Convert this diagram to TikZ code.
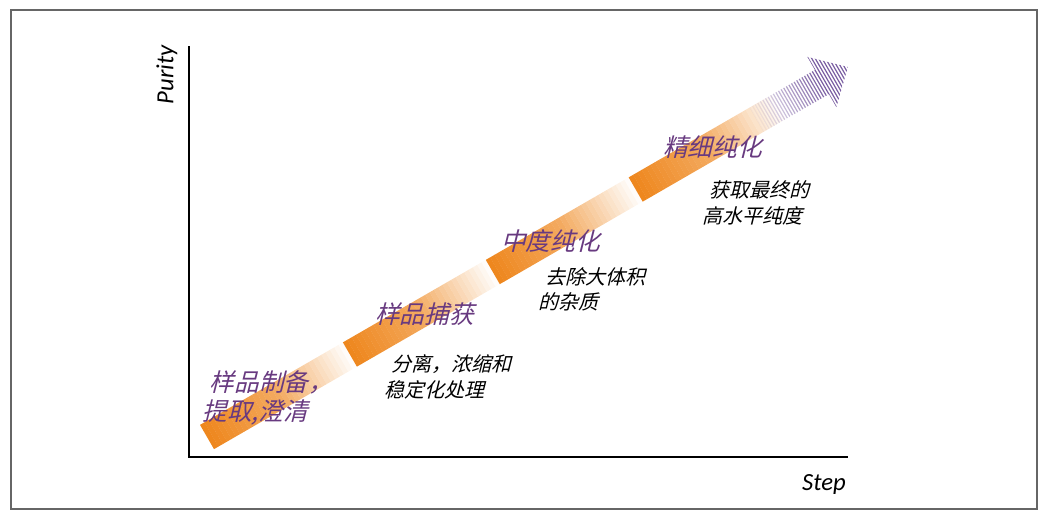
\documentclass[tikz,border=0pt]{standalone}
\usepackage{fontspec}
\newfontfamily\cjk{Noto Sans CJK SC}
\newfontfamily\axisfont{Carlito}
\definecolor{bandorange}{RGB}{238,134,28}
\definecolor{stagepurple}{RGB}{104,58,128}
\definecolor{arrowpurple}{RGB}{122,94,162}

\begin{document}
\begin{tikzpicture}[x=0.75pt,y=-0.75pt]
      \tikzset{
        stage/.style={font=\cjk\fontsize{18.5}{22}\selectfont,text=stagepurple,xslant=0.25,align=left,inner sep=0pt},
        note/.style={font=\cjk\fontsize{15}{19}\selectfont,xslant=0.25,align=left,inner sep=0pt},
        axislabel/.style={font=\axisfont\itshape\fontsize{18.5}{22}\selectfont,inner sep=0pt}
      }

      \useasboundingbox (0,0) rectangle (1046,514);
      \draw[black!60, line width=1.2pt] (11,10) rectangle (1037,509);

      % axes
      \draw[line width=1.5pt] (189,46) -- (189,457) -- (848,457);
      \node[axislabel, rotate=90] (purity) at (167,75) {Purity};
      \node[axislabel] (step) at (824,484) {Step};

      % band and arrow
      \begin{scope}[shift={(207,437)}, rotate=30]
        \foreach \k in {0,...,3}
          \foreach \i in {0,...,32} {
            \pgfmathsetmacro\t{(\i+0.5)/33}
            \pgfmathsetmacro\p{\t<0.5 ? 100-60*\t : 140*(1-\t)}
            \fill[bandorange!\p!white] (165*\k+5*\i,-14) rectangle ++(5.2,28);
          }
        \begin{scope}
          \clip (632,-14) -- (710,-14) -- (710,-29) -- (740,0) -- (710,29) -- (710,14) -- (632,14) -- cycle;
          \foreach \x in {632,635,...,741} {
            \pgfmathsetmacro\o{min(1,(\x-632)/78)}
            \draw[arrowpurple, line width=0.9pt, opacity=\o] (\x,-30) -- (\x,30);
          }
        \end{scope}
      \end{scope}

      \node[stage] (s1) at (270,398) {样品制备，\\提取,澄清};
      \node[stage] (s2) at (427,314) {样品捕获};
      \node[stage] (s3) at (553,241) {中度纯化};
      \node[stage] (s4) at (715,147) {精细纯化};

      \node[note] (d2) at (450,377) {分离，浓缩和\\稳定化处理};
      \node[note] (d3) at (594,289) {去除大体积\\的杂质};
      \node[note] (d4) at (758,203) {获取最终的\\高水平纯度};
    \end{tikzpicture}
\end{document}
